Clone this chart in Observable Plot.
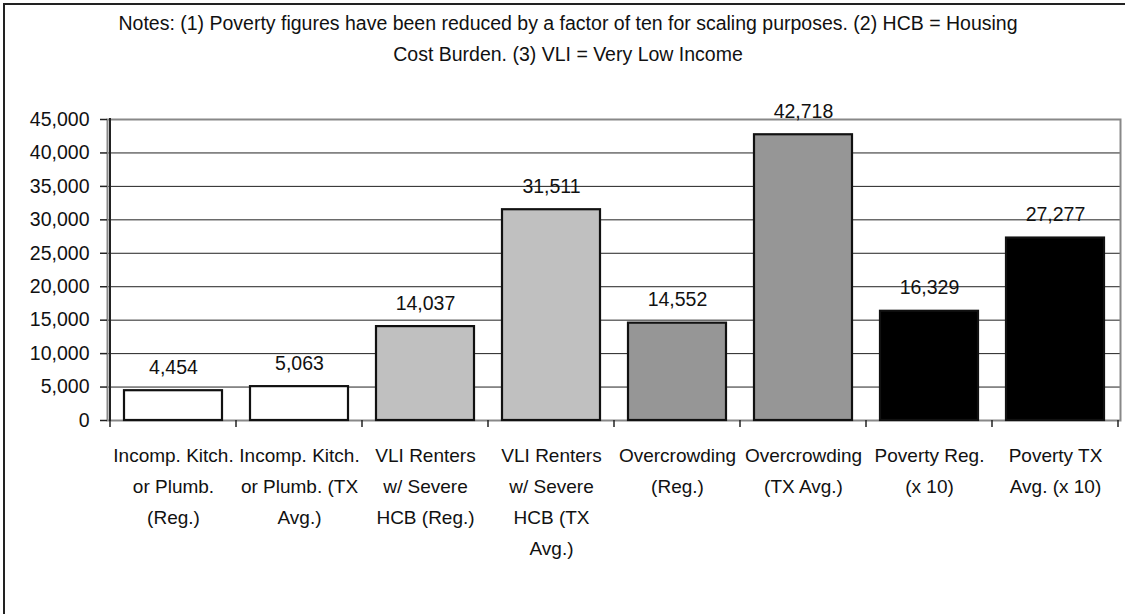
<!DOCTYPE html>
<html><head><meta charset="utf-8">
<script src="https://cdn.jsdelivr.net/npm/d3@7"></script>
<script src="https://cdn.jsdelivr.net/npm/@observablehq/plot@0.6"></script>
<style>
body{margin:0;background:#fff;width:1125px;height:614px;overflow:hidden;position:relative;font-family:"Liberation Sans",Arial,sans-serif;}
#border{position:absolute;left:3px;top:3px;width:1200px;height:700px;border-left:2px solid #222;border-top:2px solid #222;}
#title{position:absolute;left:68px;width:1000px;top:8px;text-align:center;font-size:19.5px;line-height:31px;color:#111;}
#chart{position:absolute;left:0;top:80px;}
</style></head><body>
<div id="border"></div>
<div id="title">Notes: (1) Poverty figures have been reduced by a factor of ten for scaling purposes. (2) HCB = Housing<br>Cost Burden. (3) VLI = Very Low Income</div>
<div id="chart"></div>
<script>
const categories = [
  "Incomp. Kitch. or Plumb. (Reg.)",
  "Incomp. Kitch. or Plumb. (TX Avg.)",
  "VLI Renters w/ Severe HCB (Reg.)",
  "VLI Renters w/ Severe HCB (TX Avg.)",
  "Overcrowding (Reg.)",
  "Overcrowding (TX Avg.)",
  "Poverty Reg. (x 10)",
  "Poverty TX Avg. (x 10)"
];
const tickLabels = [
  "Incomp. Kitch.\nor Plumb.\n(Reg.)",
  "Incomp. Kitch.\nor Plumb. (TX\nAvg.)",
  "VLI Renters\nw/ Severe\nHCB (Reg.)",
  "VLI Renters\nw/ Severe\nHCB (TX\nAvg.)",
  "Overcrowding\n(Reg.)",
  "Overcrowding\n(TX Avg.)",
  "Poverty Reg.\n(x 10)",
  "Poverty TX\nAvg. (x 10)"
];
const values = [4454, 5063, 14037, 31511, 14552, 42718, 16329, 27277];
const fills = ["#ffffff", "#ffffff", "#c0c0c0", "#c0c0c0", "#969696", "#969696", "#000000", "#000000"];
const yTicks = [0, 5000, 10000, 15000, 20000, 25000, 30000, 35000, 40000, 45000];

const data = categories.map((c, i) => ({category: c, value: values[i], fill: fills[i]}));
const font = '"Liberation Sans",Arial,sans-serif';
const fmt = d3.format(",");

const chart = Plot.plot({
  width: 1125, height: 534,
  marginLeft: 107, marginRight: 5, marginTop: 39, marginBottom: 194,
  style: {fontFamily: font, fontSize: "19px", color: "#111", background: "transparent"},
  x: {domain: categories, paddingInner: 0.226, paddingOuter: 0.113, axis: null, label: null},
  y: {domain: [0, 45000], axis: null, label: null},
  color: {type: "identity"},
  marks: [
    Plot.ruleY(yTicks.filter(d => d > 0 && d < 45000), {stroke: "#222", strokeWidth: 1}),
    Plot.frame({stroke: "#888", strokeWidth: 2}),
    Plot.barY(data, {x: "category", y: "value", fill: "fill", stroke: "#111", strokeWidth: 2.2}),
    Plot.text(data, {x: "category", y: "value", text: d => fmt(d.value), lineAnchor: "bottom", dy: -17, fill: "#111", fontSize: 19.5}),
    Plot.axisY({ticks: yTicks, tickSize: 7, tickPadding: 11, tickFormat: fmt, stroke: "#222", strokeWidth: 1.5, label: null, fontSize: 19.5}),
    Plot.axisX({tickSize: 0, tickPadding: 20, tickFormat: d => tickLabels[categories.indexOf(d)], lineHeight: 1.63, fill: "#111", label: null})
  ]
});
document.getElementById("chart").appendChild(chart);

// left axis line and category boundary ticks, positioned from Plot's own scales
const sx = chart.scale("x"), sy = chart.scale("y");
const svg = d3.select(chart);
const y0 = sy.apply(0), yTop = sy.apply(45000);
const gap = (sx.step - sx.bandwidth) / 2;
const bounds = categories.map(c => sx.apply(c) - gap).concat([sx.apply(categories[categories.length - 1]) + sx.bandwidth + gap]);
const g = svg.append("g").attr("stroke", "#222");
g.selectAll("line.t").data(bounds).join("line")
  .attr("x1", d => d).attr("x2", d => d).attr("y1", y0).attr("y2", y0 + 7).attr("stroke-width", 1.5);
g.append("line").attr("x1", bounds[0]).attr("x2", bounds[0]).attr("y1", yTop - 1).attr("y2", y0 + 1).attr("stroke-width", 2);
</script>
</body></html>
